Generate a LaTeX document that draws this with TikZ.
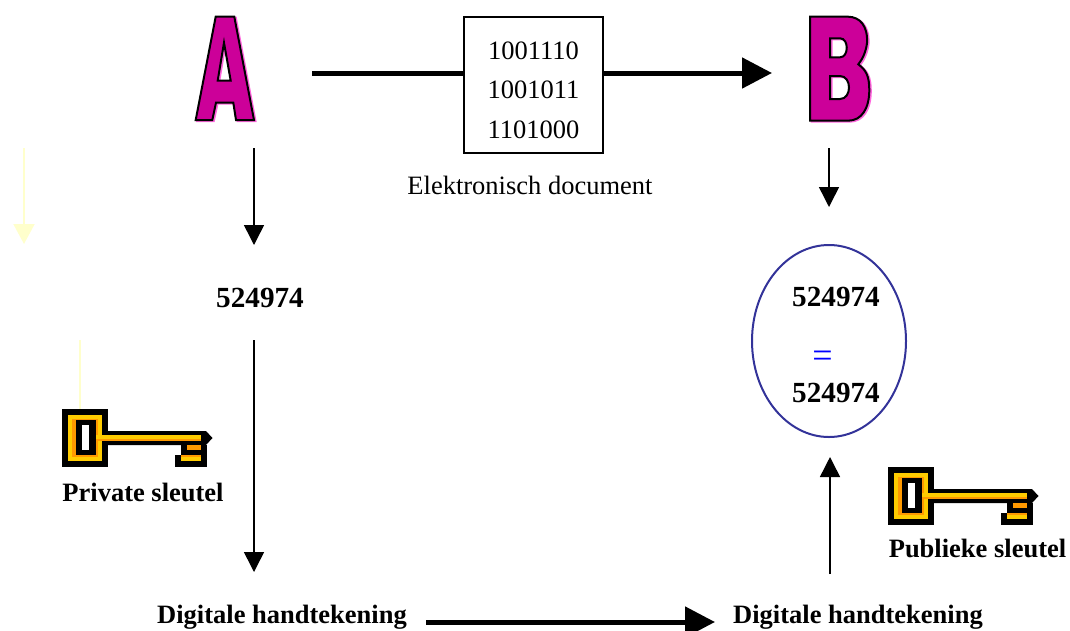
\documentclass[tikz,border=0pt]{standalone}
\usepackage{fontspec}
\setmainfont{Liberation Serif}
\usepackage{xcolor}
\usetikzlibrary{arrows.meta,shapes.geometric}
\definecolor{lettercol}{HTML}{CC0099}
\definecolor{lettershade}{HTML}{FF66DD}
\definecolor{keyyellow}{HTML}{FFCC00}
\definecolor{keyorange}{HTML}{FF9900}
\definecolor{ringcol}{HTML}{333399}
\definecolor{paleyellow}{HTML}{FFFFCC}
\tikzset{
  thinarrow/.style={-{Triangle[length=20pt,width=20pt]},line width=1.5pt},
  thickarrow/.style={-{Triangle[length=30pt,width=30pt]},line width=5pt},
  palearrow/.style={paleyellow,line width=2pt},
  txt/.style={inner sep=0pt,font=\fontsize{26.5}{28}\selectfont},
  boldtxt/.style={inner sep=0pt,font=\fontsize{26.5}{28}\selectfont\bfseries},
  numtxt/.style={inner sep=0pt,font=\fontsize{29.2}{31}\selectfont\bfseries},
  letterface/.style={fill=lettercol,draw=black,line width=2pt},
  lettershadow/.style={fill=lettershade,draw=lettershade,line width=2pt},
  key/.pic={
    \fill[black] (0,0) rectangle (46,58);
    \fill[black] (46,22) -- (144,22) -- (150.5,29) -- (144,36) -- (46,36) -- cycle;
    \fill[black] (119,36) rectangle (145,46);
    \fill[black] (113,46) rectangle (145,58);
    \fill[keyyellow] (6,6) rectangle (40,52);
    \fill[keyorange] (10,10) rectangle (36,48);
    \fill[black] (14,11) rectangle (34,46);
    \fill[white] (20,16) rectangle (26.5,41);
    \fill[keyyellow] (34,25.5) rectangle (139,30);
    \fill[keyorange] (34,30) rectangle (139,32);
    \fill[keyorange] (125,36) rectangle (139,41);
    \fill[keyorange] (119,46) rectangle (139,48);
    \fill[keyyellow] (119,48) rectangle (139,52);
  },
  letterA/.pic={
    \path[pic actions,even odd rule]
      (15.7,120) -- (35.7,16.7) -- (54.3,16.7) -- (74,120) -- (56,120) -- (53.3,102.7)
      -- (36,102.7) -- (32.3,120) -- cycle
      (44,42.7) -- (50.7,80.7) -- (37.7,80.7) -- cycle;
  },
  letterB/.pic={
    \path[pic actions,even odd rule]
      (0,16.7) -- (38.3,16.7) .. controls (50,17) and (58,26) .. (57,43)
      .. controls (56,52) and (52,60) .. (48.3,64.3)
      .. controls (56,70) and (59.3,76) .. (59.3,90)
      .. controls (59.3,108) and (52,120.7) .. (38,120.7) -- (0,120.7) -- cycle
      (20,38.3) -- (30,38.3) .. controls (39,38.3) and (39,57.3) .. (30,57.3) -- (20,57.3) -- cycle
      (20,76) -- (30,76) .. controls (42,76) and (42,99) .. (30,99) -- (20,99) -- cycle;
  }
}
\begin{document}
\begin{tikzpicture}[x=1pt,y=-1pt]
  \useasboundingbox (0,0) rectangle (1070,630);

  % pale leftovers
  \coordinate (p1) at (24,148);
  \coordinate (p2) at (24,244);
  \coordinate (p3) at (80,340);
  \coordinate (p4) at (80,409);
  \draw[palearrow,-{Triangle[length=20pt,width=21pt]}] (p1) -- (p2);
  \draw[palearrow] (p3) -- (p4);

  % letters
  \pic[lettershadow] at (181.5,1) {letterA};
  \pic[lettershadow] at (811.5,1) {letterB};
  \pic[letterface] at (180,0) {letterA};
  \pic[letterface] at (810,0) {letterB};

  % document
  \node (doc) at (533.5,85) [draw,line width=1.5pt,minimum width=139pt,minimum height=136pt,inner sep=0pt] {};
  \node (l1) at (533.5,51) [txt] {1001110};
  \node (l2) at (533.5,90) [txt] {1001011};
  \node (l3) at (533.5,130) [txt] {1101000};
  \node (cap) at (530,185) [txt] {Elektronisch document};

  % values
  \node (numA) at (260,298) [numtxt] {524974};
  \node (ring) at (829,341) [draw=ringcol,line width=2pt,ellipse,minimum width=154pt,minimum height=192pt,inner sep=0pt] {};
  \node (num1) at (836,297) [numtxt] {524974};
  \node (eq) at (822.5,359) [inner sep=0pt,font=\fontsize{36}{38}\selectfont,text=blue] {=};
  \node (num2) at (836,393) [numtxt] {524974};

  % keys
  \pic at (62,409) {key};
  \pic at (888,467) {key};
  \node (priv) at (143,492) [boldtxt] {Private sleutel};
  \node (publ) at (977.5,548) [boldtxt] {Publieke sleutel};
  \node (signA) at (282,617) [boldtxt] {Digitale handtekening};
  \node (signB) at (858,617) [boldtxt] {Digitale handtekening};

  % connector ends
  \coordinate (a1) at (312,73);
  \coordinate (a2) at (772,73);
  \coordinate (a3) at (254,148);
  \coordinate (a4) at (254,245);
  \coordinate (a5) at (254,340);
  \coordinate (a6) at (254,572);
  \coordinate (b1) at (829,148);
  \coordinate (b2) at (829,207);
  \coordinate (b3) at (830,574);
  \coordinate (b4) at (830,457);
  \coordinate (c1) at (426,622);
  \coordinate (c2) at (715,622);

  \draw[line width=5pt] (a1) -- (doc.west |- a1);
  \draw[thickarrow] (doc.east |- a1) -- (a2);
  \draw[thickarrow] (c1) -- (c2);
  \foreach \from/\to in {a3/a4,a5/a6,b1/b2,b3/b4}
    \draw[thinarrow] (\from) -- (\to);
\end{tikzpicture}
\end{document}
